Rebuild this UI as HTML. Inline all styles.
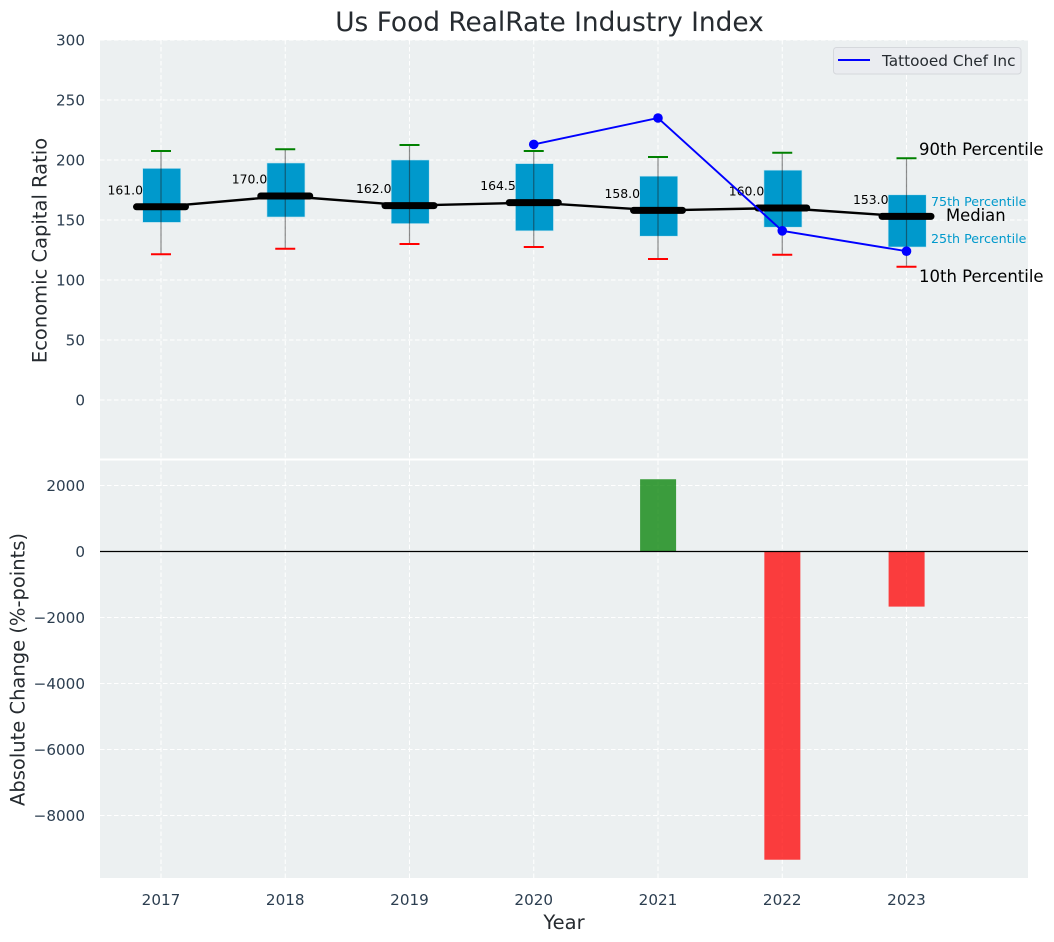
<!DOCTYPE html>
<html>
<head>
<meta charset="utf-8">
<title>Us Food RealRate Industry Index</title>
<style>
html,body{margin:0;padding:0;background:#fff;width:1054px;height:942px;overflow:hidden}
svg{display:block;font-family:"DejaVu Sans","Liberation Sans",sans-serif}
</style>
</head>
<body>
<svg id="chart" width="1054" height="942" viewBox="0 0 1054 942" xmlns="http://www.w3.org/2000/svg">
<rect x="100" y="40" width="928" height="418.5" fill="#ecf0f1"/>
<rect x="100" y="460.5" width="928" height="417.5" fill="#ecf0f1"/>
<g id="grid"></g>
<g id="bars"></g>
<g id="boxes"></g>
<g id="ticks"></g>
<g id="lines"></g>
<text x="549.5" y="31" text-anchor="middle" font-size="26.4px" fill="#262b30">Us Food RealRate Industry Index</text>
<text transform="translate(46.5,250.5) rotate(-90)" text-anchor="middle" font-size="19.5px" fill="#262b30">Economic Capital Ratio</text>
<text transform="translate(24.5,669.5) rotate(-90)" text-anchor="middle" font-size="19.5px" fill="#262b30">Absolute Change (%-points)</text>
<text x="564" y="929" text-anchor="middle" font-size="19.5px" fill="#262b30">Year</text>
<g>
<rect x="833.5" y="47.5" width="187.5" height="26.5" rx="3" fill="#eaecf0" stroke="#d5d8dc" stroke-width="1"/>
<line x1="838" y1="60" x2="870" y2="60" stroke="#0000ff" stroke-width="2"/>
<text x="882" y="66" font-size="15.3px" fill="#262b30">Tattooed Chef Inc</text>
</g>
<g>
<text x="919" y="155" font-size="16.5px" fill="#000">90th Percentile</text>
<text x="931" y="206" font-size="12.65px" fill="#0099cc">75th Percentile</text>
<text x="946" y="221" font-size="16.4px" fill="#000">Median</text>
<text x="931" y="243" font-size="12.65px" fill="#0099cc">25th Percentile</text>
<text x="919" y="282" font-size="16.5px" fill="#000">10th Percentile</text>
</g>
</svg>
<script>
const years = [2017, 2018, 2019, 2020, 2021, 2022, 2023];
const p90 = [207.5, 209, 212.5, 207.5, 202.5, 206, 201.5];
const p75 = [193, 197.5, 200, 197, 186.5, 191.5, 171];
const medians = [161, 170, 162, 164.5, 158, 160, 153];
const p25 = [148, 152.5, 147, 141, 136.5, 144, 127.5];
const p10 = [121.5, 126, 130, 127.5, 117.5, 121, 111];
const companyYears = [2020, 2021, 2022, 2023];
const companyValues = [213, 235, 141, 124];
const changeYears = [2021, 2022, 2023];
const changeValues = [2190, -9340, -1670];
const topTicks = [0, 50, 100, 150, 200, 250, 300];
const bottomTicks = [-8000, -6000, -4000, -2000, 0, 2000];

const NS = 'http://www.w3.org/2000/svg';
function x(year) { return 161 + (year - 2017) * 124.25; }
function yTop(v) { return 400 - v * 1.2; }
function yBot(v) { return 551.5 - v * 0.033; }
function make(parent, tag, attrs, text) {
  const el = document.createElementNS(NS, tag);
  for (const k in attrs) el.setAttribute(k, attrs[k]);
  if (text !== undefined) el.textContent = text;
  parent.appendChild(el);
  return el;
}
const grid = document.getElementById('grid');
const ticks = document.getElementById('ticks');
const bars = document.getElementById('bars');
const boxes = document.getElementById('boxes');
const lines = document.getElementById('lines');
const gridStyle = { stroke: '#ffffff', 'stroke-width': 1, 'stroke-dasharray': '4.5 2.5' };

years.forEach(function (yr) {
  const a = make(grid, 'line', Object.assign({ x1: x(yr), x2: x(yr), y1: 40, y2: 458.5 }, gridStyle));
  
  
  const b = make(grid, 'line', Object.assign({ x1: x(yr), x2: x(yr), y1: 460.5, y2: 878 }, gridStyle));
  
  
  const t = make(ticks, 'text', { x: x(yr), y: 905, 'text-anchor': 'middle', 'font-size': '15.2px', fill: '#2c3e50' }, yr);
  
  
});
topTicks.forEach(function (v) {
  const l = make(grid, 'line', Object.assign({ x1: 100, x2: 1028, y1: yTop(v), y2: yTop(v) }, gridStyle));
  
  
  const t = make(ticks, 'text', { x: 85, y: yTop(v) + 5.5, 'text-anchor': 'end', 'font-size': '15.2px', fill: '#2c3e50' }, v);
  
  
});
bottomTicks.forEach(function (v) {
  const l = make(grid, 'line', Object.assign({ x1: 100, x2: 1028, y1: yBot(v), y2: yBot(v) }, gridStyle));
  
  
  const t = make(ticks, 'text', { x: 85, y: yBot(v) + 5.5, 'text-anchor': 'end', 'font-size': '15.2px', fill: '#2c3e50' }, String(v).replace('-', '\u2212'));
  
  
});

changeYears.forEach(function (yr, i) {
  const v = changeValues[i];
  const up = v >= 0;
  const r = make(bars, 'rect', {
    x: x(yr) - 17.9, width: 36,
    y: up ? yBot(v) : yBot(0), height: Math.abs(yBot(v) - yBot(0)),
    fill: up ? 'rgba(0,128,0,0.75)' : 'rgba(255,0,0,0.75)'
  });
  
  
});
const zero = make(bars, 'line', { x1: 100, x2: 1028, y1: yBot(0), y2: yBot(0), stroke: '#000', 'stroke-width': 1.2 });



years.forEach(function (yr, i) {
  const cx = x(yr);
  const box = make(boxes, 'rect', {
    x: cx - 18.3, width: 38, y: yTop(p75[i]), height: yTop(p25[i]) - yTop(p75[i]),
    fill: '#0099cc', stroke: '#bfe3ef', 'stroke-width': 0.6
  });
  
  
  const w = make(boxes, 'line', { x1: cx, x2: cx, y1: yTop(p90[i]), y2: yTop(p10[i]), stroke: 'rgba(30,30,30,0.5)', 'stroke-width': 1.2 });
  
  
  const hi = make(boxes, 'line', { x1: cx - 10, x2: cx + 10, y1: yTop(p90[i]), y2: yTop(p90[i]), stroke: '#008000', 'stroke-width': 2 });
  
  
  const lo = make(boxes, 'line', { x1: cx - 10, x2: cx + 10, y1: yTop(p10[i]), y2: yTop(p10[i]), stroke: '#ff0000', 'stroke-width': 2 });
  
  
});

function polyPoints(xs, ys) {
  return xs.map(function (yr, i) { return x(yr) + ',' + yTop(ys[i]); }).join(' ');
}
const medLine = make(lines, 'polyline', { points: polyPoints(years, medians), fill: 'none', stroke: '#000', 'stroke-width': 2.4 });


years.forEach(function (yr, i) {
  const cx = x(yr);
  const m = make(lines, 'line', { x1: cx - 24.5, x2: cx + 24.5, y1: yTop(medians[i]), y2: yTop(medians[i]), stroke: '#000', 'stroke-width': 7, 'stroke-linecap': 'round' });
  
  
  const t = make(lines, 'text', { x: cx - 18, y: yTop(medians[i]) - 12.5, 'text-anchor': 'end', 'font-size': '12.4px', fill: '#000' }, medians[i].toFixed(1));
  
  
});
const coLine = make(lines, 'polyline', { points: polyPoints(companyYears, companyValues), fill: 'none', stroke: '#0000ff', 'stroke-width': 1.9 });


companyYears.forEach(function (yr, i) {
  const c = make(lines, 'circle', { cx: x(yr), cy: yTop(companyValues[i]), r: 4.8, fill: '#0000ff' });
  
  
});
</script>
</body>
</html>
